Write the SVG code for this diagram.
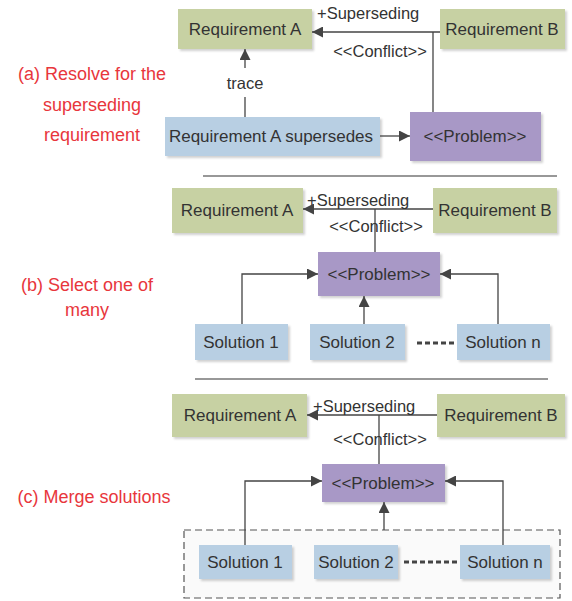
<svg xmlns="http://www.w3.org/2000/svg" width="572" height="601" viewBox="0 0 572 601">
<style>
text{font-family:"Liberation Sans",Arial,sans-serif;fill:#333;}
.n{font-size:17px;text-anchor:middle;}
.l{font-size:16.5px;}
.c{text-anchor:middle;}
.red{font-size:18px;fill:#e8363c;text-anchor:middle;}
.g{fill:#c7d1a3;}
.b{fill:#b8cfe3;}
.p{fill:#a898c6;}
.w{stroke:#444;stroke-width:1.3;fill:none;}
.d{stroke:#444;stroke-width:3;stroke-dasharray:5 3;fill:none;}
.sep{stroke:#333;stroke-width:1.2;}
</style>
<defs>
<marker id="ah" viewBox="0 0 10 10" refX="10" refY="5" markerWidth="11" markerHeight="11" markerUnits="userSpaceOnUse" orient="auto"><path d="M0,0 L10,5 L0,10 z" fill="#444"/></marker>
<filter id="sh" x="-10%" y="-10%" width="130%" height="140%"><feDropShadow dx="2" dy="2" stdDeviation="1.2" flood-color="#000" flood-opacity="0.18"/></filter>
</defs>

<!-- Panel labels -->
<g id="label-a"><text class="red" x="92" y="80">(a) Resolve for the</text><text class="red" x="92" y="111">superseding</text><text class="red" x="92" y="141">requirement</text></g>
<g id="label-b"><text class="red" x="87" y="291">(b) Select one of</text><text class="red" x="87" y="316">many</text></g>
<g id="label-c"><text class="red" x="94" y="503">(c) Merge solutions</text></g>

<!-- separators -->
<g id="separators"><line class="sep" x1="203" y1="176" x2="557" y2="176"/><line class="sep" x1="195" y1="379" x2="548" y2="379"/></g>

<!-- Panel a nodes -->
<g id="a-reqA"><rect class="g" filter="url(#sh)" x="178" y="9" width="134" height="40"/><text class="n" x="245" y="35">Requirement A</text></g>
<g id="a-reqB"><rect class="g" filter="url(#sh)" x="440" y="9" width="125" height="40"/><text class="n" x="502" y="35">Requirement B</text></g>
<g id="a-supersedes"><rect class="b" filter="url(#sh)" x="165" y="117" width="215" height="39"/><text class="n" x="271" y="142">Requirement A supersedes</text></g>
<g id="a-problem"><rect class="p" filter="url(#sh)" x="410" y="112" width="131" height="49"/><text class="n" x="475" y="142">&lt;&lt;Problem&gt;&gt;</text></g>

<!-- Panel b nodes -->
<g id="b-reqA"><rect class="g" filter="url(#sh)" x="172" y="188" width="131" height="45"/><text class="n" x="237" y="216">Requirement A</text></g>
<g id="b-reqB"><rect class="g" filter="url(#sh)" x="433" y="188" width="124" height="45"/><text class="n" x="495" y="216">Requirement B</text></g>
<g id="b-problem"><rect class="p" filter="url(#sh)" x="318" y="252" width="122" height="44"/><text class="n" x="379" y="280">&lt;&lt;Problem&gt;&gt;</text></g>
<g id="b-sol1"><rect class="b" filter="url(#sh)" x="195" y="324" width="93" height="36"/><text class="n" x="241" y="348">Solution 1</text></g>
<g id="b-sol2"><rect class="b" filter="url(#sh)" x="310" y="324" width="95" height="36"/><text class="n" x="357" y="348">Solution 2</text></g>
<g id="b-soln"><rect class="b" filter="url(#sh)" x="457" y="324" width="93" height="36"/><text class="n" x="503" y="348">Solution n</text></g>

<!-- Panel c nodes -->
<g id="c-group"><rect x="184" y="530" width="376" height="68" fill="#fafafa" stroke="#555" stroke-width="1.2" stroke-dasharray="7 4"/></g>
<g id="c-reqA"><rect class="g" filter="url(#sh)" x="172" y="394" width="135" height="43"/><text class="n" x="240" y="421">Requirement A</text></g>
<g id="c-reqB"><rect class="g" filter="url(#sh)" x="437" y="394" width="128" height="43"/><text class="n" x="501" y="421">Requirement B</text></g>
<g id="c-problem"><rect class="p" filter="url(#sh)" x="322" y="464" width="123" height="38"/><text class="n" x="383" y="489">&lt;&lt;Problem&gt;&gt;</text></g>
<g id="c-sol1"><rect class="b" filter="url(#sh)" x="199" y="545" width="93" height="34"/><text class="n" x="245" y="568">Solution 1</text></g>
<g id="c-sol2"><rect class="b" filter="url(#sh)" x="314" y="545" width="84" height="34"/><text class="n" x="356" y="568">Solution 2</text></g>
<g id="c-soln"><rect class="b" filter="url(#sh)" x="460" y="545" width="90" height="34"/><text class="n" x="505" y="568">Solution n</text></g>

<!-- Connectors -->
<g id="connectors">
<path class="w" d="M440,32 H312" marker-end="url(#ah)"/>
<path class="w" d="M433,32 V112"/>
<path class="w" d="M380,136 H410" marker-end="url(#ah)"/>
<path class="w" d="M245,117 V97"/>
<path class="w" d="M245,68 V49" marker-end="url(#ah)"/>
<text class="l c" x="245" y="89">trace</text>
<text class="l" x="317" y="19">+Superseding</text>
<text class="l c" x="380" y="57">&lt;&lt;Conflict&gt;&gt;</text>

<path class="w" d="M433,209 H303" marker-end="url(#ah)"/>
<path class="w" d="M375,209 V252"/>
<path class="w" d="M242,324 V274 H318" marker-end="url(#ah)"/>
<path class="w" d="M364,324 V296" marker-end="url(#ah)"/>
<path class="w" d="M498,324 V274 H440" marker-end="url(#ah)"/>
<path class="d" d="M417,343 H457"/>
<text class="l" x="307" y="206">+Superseding</text>
<text class="l c" x="376" y="232">&lt;&lt;Conflict&gt;&gt;</text>

<path class="w" d="M437,415 H307" marker-end="url(#ah)"/>
<path class="w" d="M379,415 V464"/>
<path class="w" d="M245,545 V481 H322" marker-end="url(#ah)"/>
<path class="w" d="M384,530 V502" marker-end="url(#ah)"/>
<path class="w" d="M503,545 V481 H445" marker-end="url(#ah)"/>
<path class="d" d="M404,562 H460"/>
<text class="l" x="313" y="412">+Superseding</text>
<text class="l c" x="380" y="445">&lt;&lt;Conflict&gt;&gt;</text>
</g>
</svg>
